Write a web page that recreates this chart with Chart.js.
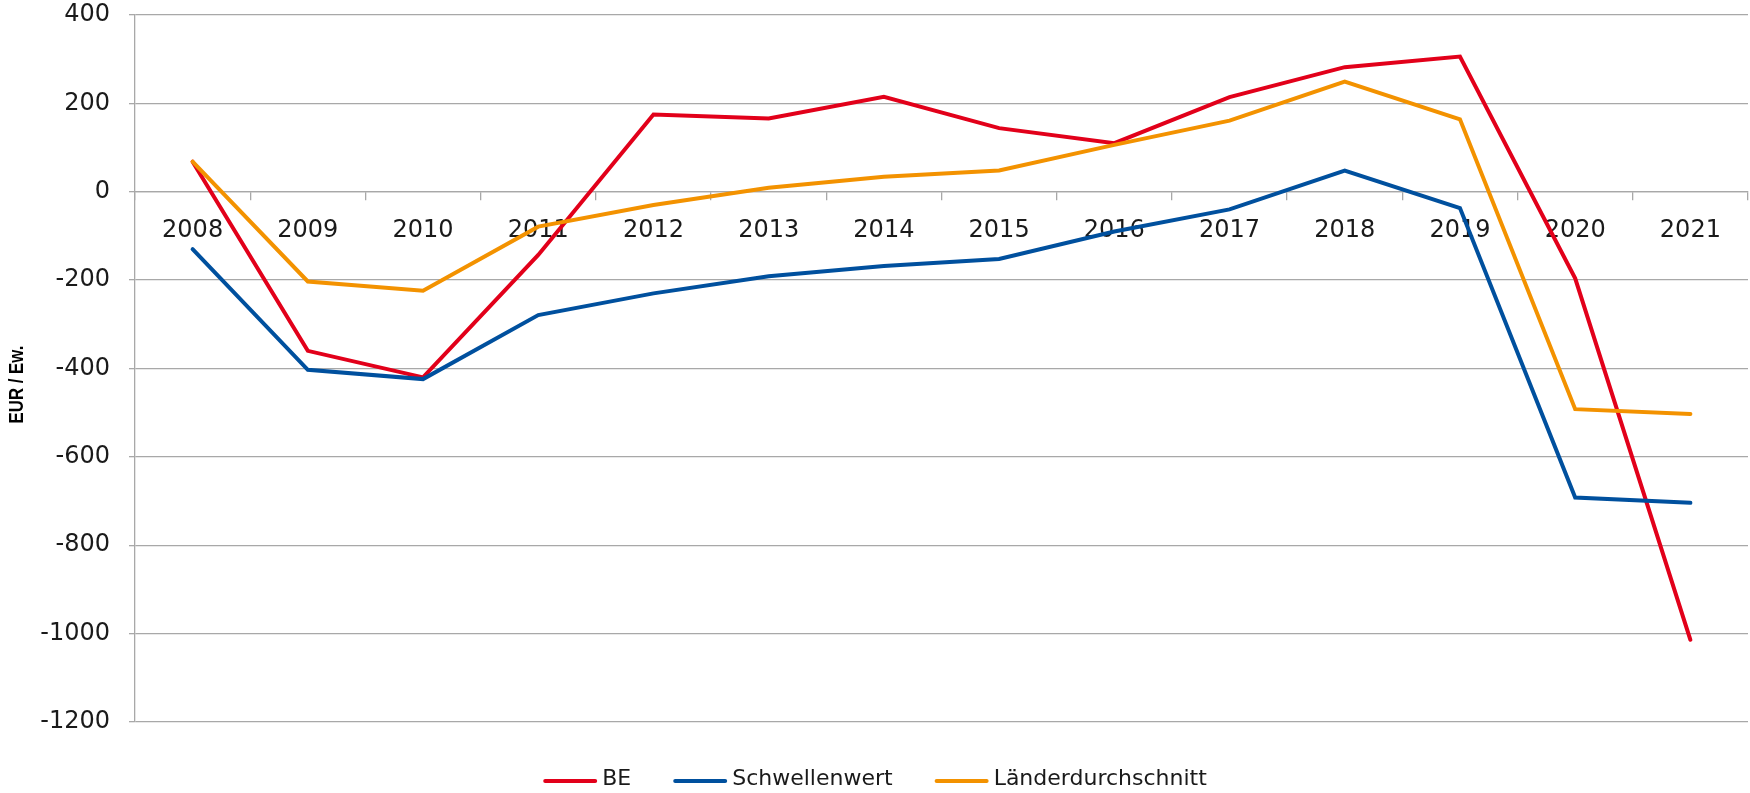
<!DOCTYPE html>
<html lang="de">
<head>
<meta charset="utf-8">
<title>EUR / Ew.</title>
<script src="https://cdn.jsdelivr.net/npm/chart.js@4/dist/chart.umd.min.js"></script>
<style>
    html, body { margin: 0; padding: 0; background: #fff; }
    #wrap { width: 1750px; height: 793px; position: relative; }
</style>
</head>
<body>
<div id="wrap"><canvas id="chart"></canvas></div>
<script>
// Values
const years = ['2008', '2009', '2010', '2011', '2012', '2013', '2014', '2015', '2016', '2017', '2018', '2019', '2020', '2021'];
const beValues = [68, -360, -420, -143, 175, 166, 215, 144, 110, 214, 282, 306, -196, -1014];
const schwellenwertValues = [-130, -403, -424, -279, -230, -191, -168, -152, -90, -40, 48, -37, -692, -704];
const laenderValues = [68, -203, -224, -79, -30, 9, 34, 48, 106, 161, 249, 164, -492, -503];
const yTicks = [400, 200, 0, -200, -400, -600, -800, -1000, -1200];
const yTitle = 'EUR / Ew.';

const RED = '#e2001a';
const BLUE = '#00509e';
const ORANGE = '#f39200';
const GRID = '#a8a8a8';
const FONT = "'DejaVu Sans', 'Liberation Sans', sans-serif";

function lineSet(label, data, color, order) {
    return {
        label: label,
        data: data,
        borderColor: color,
        backgroundColor: color,
        borderWidth: 4,
        pointRadius: 0,
        pointHoverRadius: 0,
        tension: 0,
        fill: false,
        borderCapStyle: 'round',
        order: order
    };
}

// Legend drawn below the plot: short line + label, centred on the canvas
const bottomLegend = {
    id: 'bottomLegend',
    afterDraw(chart) {
        const ctx = chart.ctx;
        const lineLen = 54, gap = 5, itemGap = 42, y = 779;
        ctx.save();
        ctx.font = '22px ' + FONT;
        ctx.textBaseline = 'middle';
        ctx.textAlign = 'left';
        const items = chart.data.datasets.map(ds => ({
            text: ds.label,
            color: ds.borderColor,
            w: lineLen + gap + ctx.measureText(ds.label).width
        }));
        const total = items.reduce((s, it) => s + it.w, 0) + itemGap * (items.length - 1);
        let x = (chart.width - total) / 2;
        items.forEach(it => {
            ctx.strokeStyle = it.color;
            ctx.lineWidth = 4;
            ctx.lineCap = 'round';
            ctx.beginPath();
            ctx.moveTo(x + 2, y + 2);
            ctx.lineTo(x + lineLen - 2, y + 2);
            ctx.stroke();
            ctx.fillStyle = '#1a1a1a';
            ctx.fillText(it.text, x + lineLen + gap, y);
            x += it.w + itemGap;
        });
        ctx.restore();
    }
};

// Rotated, slightly condensed y-axis title (sits a bit below the plot centre, like the original)
const yAxisTitle = {
    id: 'yAxisTitle',
    afterDraw(chart) {
        const ctx = chart.ctx;
        const area = chart.chartArea;
        ctx.save();
        ctx.translate(17, (area.top + area.bottom) / 2 + 16);
        ctx.rotate(-Math.PI / 2);
        ctx.scale(0.8, 1);
        ctx.font = "bold 21px 'Liberation Sans', Arial, sans-serif";
        ctx.fillStyle = '#000';
        ctx.textAlign = 'center';
        ctx.textBaseline = 'middle';
        ctx.fillText(yTitle, 0, 0);
        ctx.restore();
    }
};

new Chart(document.getElementById('chart'), {
    type: 'line',
    data: {
        labels: years,
        datasets: [
            lineSet('BE', beValues, RED, 3),
            lineSet('Schwellenwert', schwellenwertValues, BLUE, 2),
            lineSet('Länderdurchschnitt', laenderValues, ORANGE, 1)
        ]
    },
    plugins: [bottomLegend, yAxisTitle],
    options: {
        responsive: true,
        maintainAspectRatio: false,
        animation: false,
        layout: {
            padding: { top: 15, right: 2, left: 0, bottom: 71 }
        },
        plugins: {
            legend: { display: false },
            tooltip: { enabled: false }
        },
        scales: {
            x: {
                type: 'category',
                position: { y: 0 },
                offset: true,
                z: 1,
                afterFit: function(scale) { scale.height = 0; },
                grid: {
                    offset: true,
                    drawOnChartArea: false,
                    drawTicks: true,
                    tickLength: 8,
                    color: GRID,
                    lineWidth: 1.3
                },
                border: { display: true, color: GRID, width: 1.3 },
                ticks: {
                    font: { family: FONT, size: 24 },
                    color: '#1a1a1a',
                    padding: 17,
                    maxRotation: 0,
                    autoSkip: false
                }
            },
            y: {
                min: -1200,
                max: 400,
                afterFit: function(scale) {
                    scale.width = 135;
                    // tick padding would otherwise push the plot top down
                    scale.paddingTop = 0;
                    scale.paddingBottom = 0;
                },
                afterBuildTicks: function(scale) {
                    scale.ticks = yTicks.map(v => ({ value: v }));
                },
                grid: {
                    color: GRID,
                    lineWidth: 1.3,
                    tickLength: 6
                },
                border: { display: true, color: GRID, width: 1.3 },
                ticks: {
                    font: { family: FONT, size: 24 },
                    color: '#1a1a1a',
                    padding: 19,
                    callback: v => String(v)
                },
                title: { display: false }
            }
        }
    }
});
</script>
</body>
</html>
